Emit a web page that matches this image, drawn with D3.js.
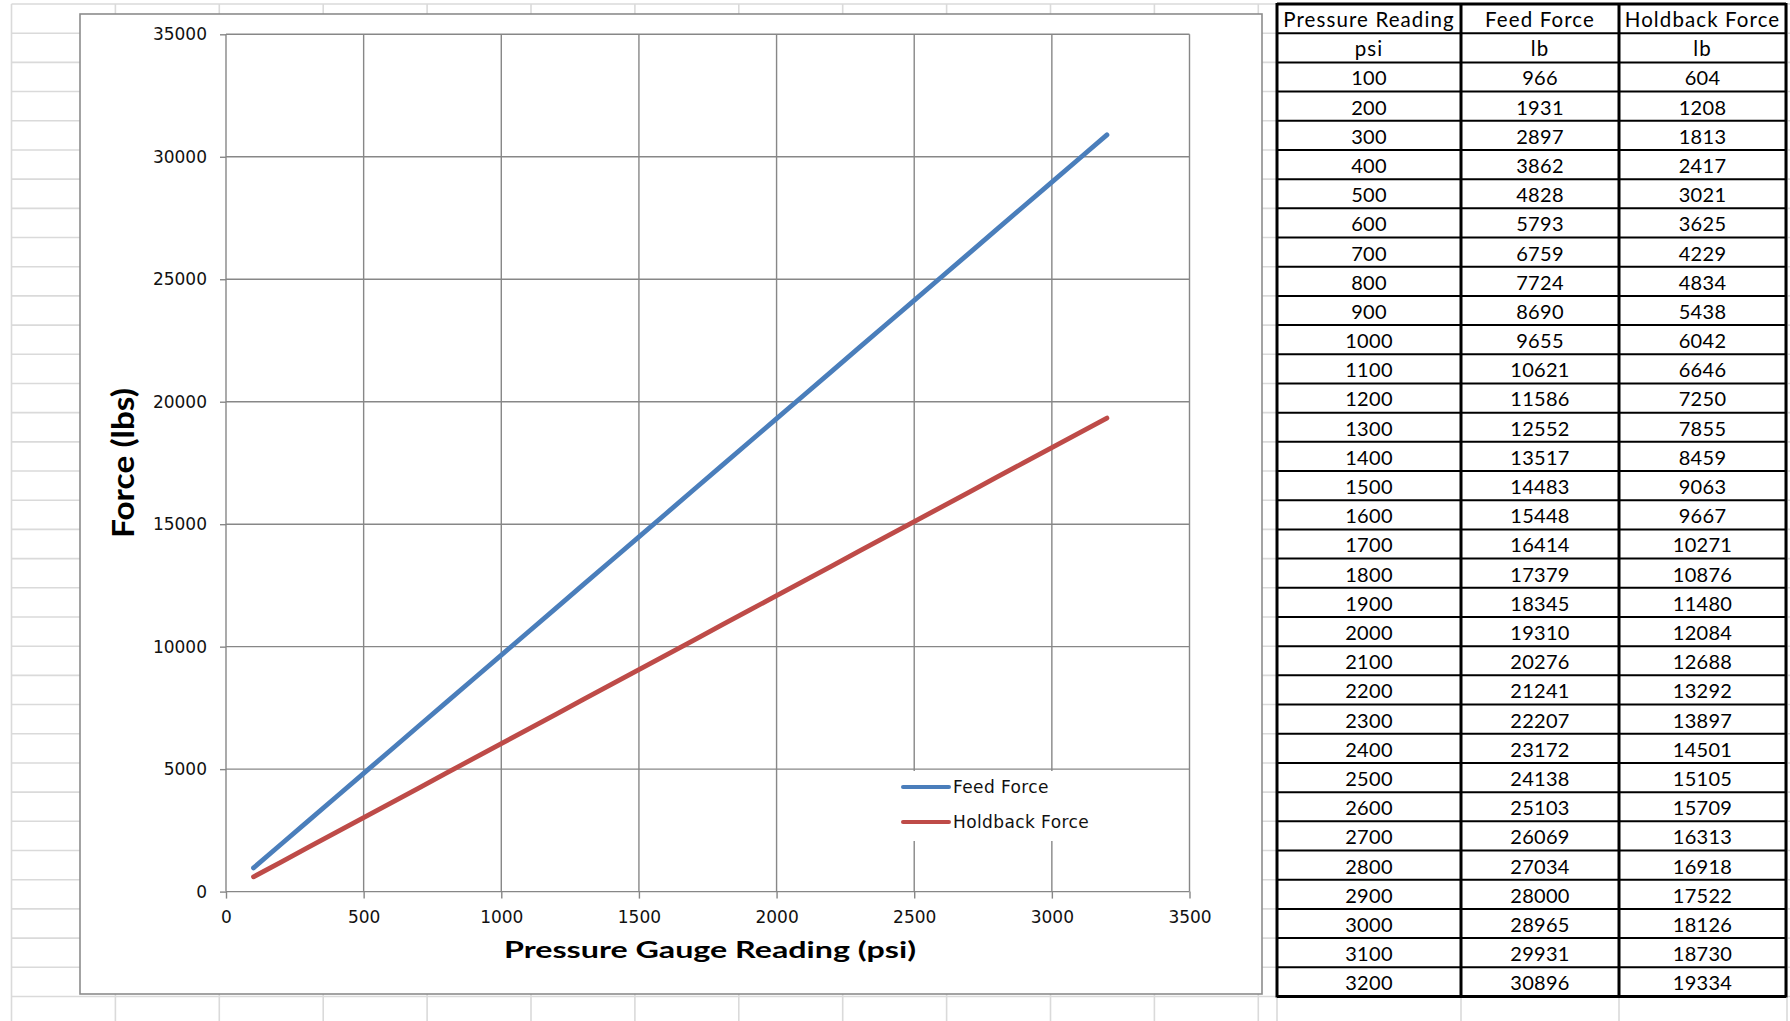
<!DOCTYPE html>
<html><head><meta charset="utf-8">
<script src="https://cdn.jsdelivr.net/npm/d3@7"></script>
<style>body{margin:0;background:#fff;} svg{display:block;}</style>
</head><body>
<svg id="c" width="1790" height="1021"></svg>
<script>
// ---- data ----
const pressure = [100,200,300,400,500,600,700,800,900,1000,1100,1200,1300,1400,1500,1600,1700,1800,1900,2000,2100,2200,2300,2400,2500,2600,2700,2800,2900,3000,3100,3200];
const feedForce = [966,1931,2897,3862,4828,5793,6759,7724,8690,9655,10621,11586,12552,13517,14483,15448,16414,17379,18345,19310,20276,21241,22207,23172,24138,25103,26069,27034,28000,28965,29931,30896];
const holdbackForce = [604,1208,1813,2417,3021,3625,4229,4834,5438,6042,6646,7250,7855,8459,9063,9667,10271,10876,11480,12084,12688,13292,13897,14501,15105,15709,16313,16918,17522,18126,18730,19334];
const seriesNames = ["Feed Force", "Holdback Force"];
const seriesColors = ["#4a7ebb", "#be4b48"];
const tableHeaders = ["Pressure Reading", "Feed Force", "Holdback Force"];
const tableUnits = ["psi", "lb", "lb"];
const xTicks = [0,500,1000,1500,2000,2500,3000,3500];
const yTicks = [0,5000,10000,15000,20000,25000,30000,35000];
const xTitle = "Pressure Gauge Reading (psi)";
const yTitle = "Force (lbs)";

const svg = d3.select("#c");

// ---- spreadsheet background grid ----
const rowH = 29.19, rowTop = 4;
const colLines = d3.range(13).map(i => 11.5 + 103.9 * i).concat([1277, 1461, 1619, 1787]);
const rowLines = d3.range(36).map(i => rowTop + rowH * i);
const bg = svg.append("g").attr("stroke", "#dadada").attr("stroke-width", 1.6);
bg.selectAll("line.r").data(rowLines).join("line").attr("class","r")
  .attr("x1", 11.5).attr("x2", 1790).attr("y1", d => d).attr("y2", d => d);
bg.selectAll("line.c").data(colLines).join("line").attr("class","c")
  .attr("x1", d => d).attr("x2", d => d).attr("y1", rowTop).attr("y2", 1021);

// ---- chart frame ----
svg.append("rect").attr("x", 80).attr("y", 14).attr("width", 1182).attr("height", 980)
  .attr("fill", "#fff").attr("stroke", "#8c8c8c").attr("stroke-width", 1.6);

const x = d3.scaleLinear().domain([0, 3500]).range([226, 1189.5]);
const y = d3.scaleLinear().domain([0, 35000]).range([891.6, 34.3]);

const gridColor = "#878787";
const grid = svg.append("g").attr("stroke", gridColor).attr("stroke-width", 1.4);
grid.selectAll("line.h").data(yTicks).join("line").attr("class","h")
  .attr("x1", x(0)).attr("x2", x(3500)).attr("y1", d => y(d)).attr("y2", d => y(d));
grid.selectAll("line.v").data(xTicks).join("line").attr("class","v")
  .attr("x1", d => x(d)).attr("x2", d => x(d)).attr("y1", y(0)).attr("y2", y(35000));

// axes
const yAxis = svg.append("g").attr("transform", `translate(${x(0)},0)`)
  .call(d3.axisLeft(y).tickValues(yTicks).tickSize(6).tickPadding(13).tickFormat(d3.format("d")));
const xAxis = svg.append("g").attr("transform", `translate(0,${y(0)})`)
  .call(d3.axisBottom(x).tickValues(xTicks).tickSize(7).tickPadding(12).tickFormat(d3.format("d")));
[yAxis, xAxis].forEach(g => {
  g.select(".domain").remove();
  g.selectAll(".tick line").attr("stroke", gridColor).attr("stroke-width", 1.4);
  g.selectAll(".tick text").attr("fill", "#111").style("font-family", "'DejaVu Sans'").style("font-size", "17px");
});

// legend background (covers gridlines)
svg.append("rect").attr("x", 893).attr("y", 771).attr("width", 210).attr("height", 70).attr("fill", "#fff");

// series lines
const series = [feedForce, holdbackForce];
const line = d3.line().x((d, i) => x(pressure[i])).y(d => y(d));
svg.selectAll("path.s").data(series).join("path").attr("class", "s")
  .attr("d", d => line(d)).attr("fill", "none")
  .attr("stroke", (d, i) => seriesColors[i]).attr("stroke-width", 4.8)
  .attr("stroke-linecap", "round").attr("stroke-linejoin", "round");

// legend
const lg = svg.selectAll("g.lg").data(seriesNames).join("g").attr("class", "lg")
  .attr("transform", (d, i) => `translate(903,${787 + i * 35})`);
lg.append("line").attr("x1", 0).attr("x2", 46).attr("y1", 0).attr("y2", 0)
  .attr("stroke", (d, i) => seriesColors[i]).attr("stroke-width", 4).attr("stroke-linecap", "round");
lg.append("text").attr("x", 50).attr("dy", "0.36em").text(d => d)
  .style("font-family", "'DejaVu Sans'").style("font-size", "17px").style("letter-spacing", "0.4px").attr("fill", "#111");

// axis titles
svg.append("text").attr("x", 710).attr("y", 958).attr("text-anchor", "middle")
  .attr("textLength", 412).attr("lengthAdjust", "spacingAndGlyphs")
  .style("font-family", "Lato").style("font-weight", "bold").style("font-size", "22px").text(xTitle);
svg.append("text").attr("transform", "translate(134,463) rotate(-90)").attr("text-anchor", "middle")
  .attr("textLength", 150).attr("lengthAdjust", "spacingAndGlyphs")
  .style("font-family", "Lato").style("font-weight", "bold").style("font-size", "30px").text(yTitle);

// ---- data table ----
const colX = [1277, 1461, 1619, 1786];
const rows = [tableHeaders, tableUnits].concat(pressure.map((p, i) => [p, feedForce[i], holdbackForce[i]]));
const tb = svg.append("g");
tb.append("rect").attr("x", colX[0]).attr("y", rowTop).attr("width", colX[3] - colX[0])
  .attr("height", rowH * rows.length).attr("fill", "#fff");
tb.selectAll("line.th").data(d3.range(rows.length + 1)).join("line").attr("class", "th")
  .attr("x1", colX[0]).attr("x2", colX[3]).attr("y1", i => rowTop + i * rowH).attr("y2", i => rowTop + i * rowH)
  .attr("stroke", "#000").attr("stroke-width", i => (i === 0 || i === rows.length) ? 3 : 2);
tb.selectAll("line.tv").data(colX).join("line").attr("class", "tv")
  .attr("x1", d => d).attr("x2", d => d).attr("y1", rowTop - 1).attr("y2", rowTop + rows.length * rowH + 1)
  .attr("stroke", "#000").attr("stroke-width", 3);
rows.forEach((r, ri) => {
  tb.selectAll(null).data(r).join("text")
    .attr("x", (d, ci) => (colX[ci] + colX[ci + 1]) / 2)
    .attr("y", rowTop + ri * rowH + rowH / 2).attr("dy", "0.42em").attr("text-anchor", "middle")
    .style("font-family", "Lato").style("font-size", ri < 2 ? "20.5px" : "20px")
    .style("letter-spacing", ri < 2 ? "1.1px" : "0.3px")
    .attr("fill", "#000").text(d => d);
});
</script>
</body></html>
